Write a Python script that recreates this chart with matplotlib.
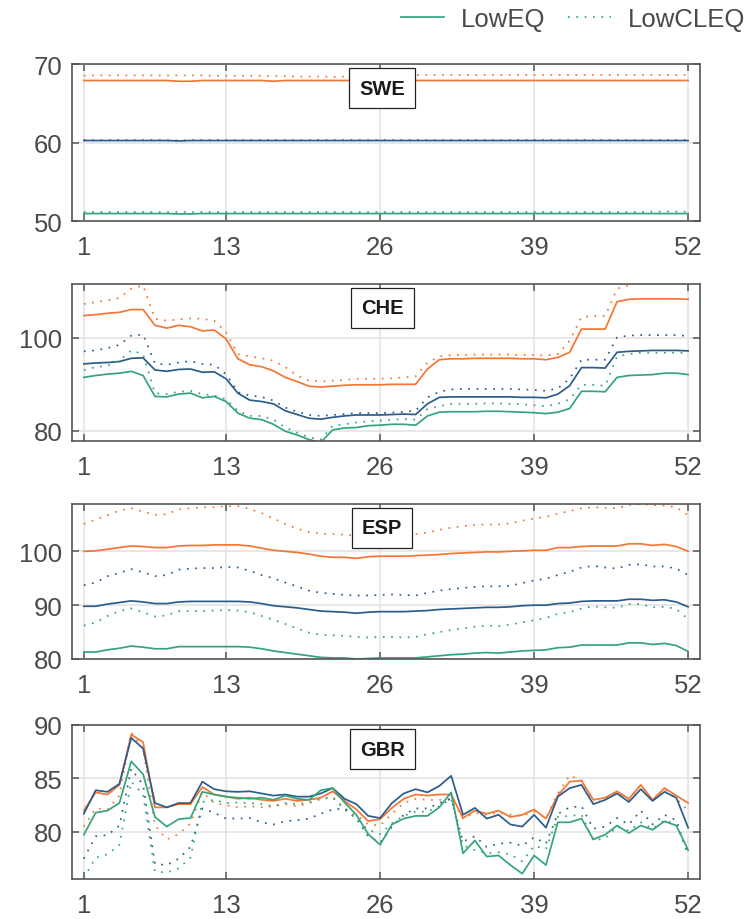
import numpy as np
import matplotlib
matplotlib.use("Agg")
import matplotlib.pyplot as plt

plt.rcParams['font.family'] = ['Liberation Sans', 'DejaVu Sans']

weeks = np.arange(1, 53)
xtick_vals = [1, 13, 26, 39, 52]
countries = ["SWE", "CHE", "ESP", "GBR"]
series_labels = ["LowEQ", "LowCLEQ"]

# ---- SWE ----
swe_orange_eq = [67.9, 67.9, 67.9, 67.9, 67.9, 67.9, 67.9, 67.9, 67.8, 67.8, 67.9, 67.9, 67.9,
                 67.9, 67.9, 67.9, 67.8, 67.9, 67.9, 67.9, 67.9, 67.9, 67.9, 67.9, 67.9, 67.9,
                 67.9, 67.9, 67.9, 67.9, 67.9, 67.9, 67.9, 67.9, 67.9, 67.9, 67.9, 67.9, 67.9,
                 67.9, 67.9, 67.9, 67.9, 67.9, 67.9, 67.9, 67.9, 67.9, 67.9, 67.9, 67.9, 67.9]
swe_orange_cleq = [68.5, 68.55, 68.55, 68.55, 68.55, 68.55, 68.55, 68.55, 68.55, 68.55, 68.55, 68.5, 68.5,
                   68.5, 68.5, 68.5, 68.45, 68.45, 68.4, 68.4, 68.4, 68.35, 68.4, 68.45, 68.55, 68.6,
                   68.6, 68.6, 68.6, 68.6, 68.6, 68.6, 68.6, 68.6, 68.6, 68.6, 68.6, 68.6, 68.6,
                   68.6, 68.6, 68.6, 68.6, 68.6, 68.6, 68.6, 68.6, 68.6, 68.6, 68.6, 68.6, 68.6]
swe_blue_eq = [60.25, 60.25, 60.25, 60.25, 60.25, 60.25, 60.25, 60.25, 60.2, 60.25, 60.25, 60.25, 60.25,
               60.25, 60.25, 60.25, 60.25, 60.25, 60.25, 60.25, 60.25, 60.25, 60.25, 60.25, 60.25, 60.25,
               60.25, 60.25, 60.25, 60.25, 60.25, 60.25, 60.25, 60.25, 60.25, 60.25, 60.25, 60.25, 60.25,
               60.25, 60.25, 60.25, 60.25, 60.25, 60.25, 60.25, 60.25, 60.25, 60.25, 60.25, 60.25, 60.25]
swe_blue_cleq = [60.3, 60.3, 60.3, 60.3, 60.3, 60.3, 60.3, 60.3, 60.25, 60.3, 60.3, 60.3, 60.3,
                 60.3, 60.3, 60.3, 60.3, 60.3, 60.3, 60.3, 60.3, 60.3, 60.3, 60.3, 60.3, 60.3,
                 60.3, 60.3, 60.3, 60.3, 60.3, 60.3, 60.3, 60.3, 60.3, 60.3, 60.3, 60.3, 60.3,
                 60.3, 60.3, 60.3, 60.3, 60.3, 60.3, 60.3, 60.3, 60.3, 60.3, 60.3, 60.3, 60.3]
swe_green_eq = [50.95, 50.95, 50.95, 50.95, 50.95, 50.95, 50.95, 50.95, 50.9, 50.9, 50.95, 50.95, 50.95,
                50.95, 50.95, 50.95, 50.95, 50.95, 50.95, 50.95, 50.95, 50.95, 50.95, 50.95, 50.95, 50.95,
                50.95, 50.95, 50.95, 50.95, 50.95, 50.95, 50.95, 50.95, 50.95, 50.95, 50.95, 50.95, 50.95,
                50.95, 50.95, 50.95, 50.95, 50.95, 50.95, 50.95, 50.95, 50.95, 50.95, 50.95, 50.95, 50.95]
swe_green_cleq = [51.15, 51.15, 51.15, 51.15, 51.15, 51.15, 51.15, 51.15, 51.15, 51.15, 51.15, 51.15, 51.15,
                  51.15, 51.15, 51.15, 51.15, 51.15, 51.15, 51.15, 51.15, 51.15, 51.15, 51.15, 51.15, 51.15,
                  51.15, 51.15, 51.15, 51.15, 51.15, 51.15, 51.15, 51.15, 51.15, 51.15, 51.15, 51.15, 51.15,
                  51.15, 51.15, 51.15, 51.15, 51.15, 51.15, 51.15, 51.15, 51.15, 51.2, 51.2, 51.2, 51.2]

# ---- CHE ----
che_orange_eq = [104.8, 105.0, 105.3, 105.5, 106.1, 106.1, 102.7, 102.1, 102.7, 102.4, 101.5, 101.7, 99.8,
                 95.5, 94.2, 93.8, 92.9, 91.5, 90.6, 89.6, 89.4, 89.6, 89.8, 89.9, 89.9, 89.9,
                 90.0, 90.0, 90.0, 93.3, 95.3, 95.5, 95.5, 95.6, 95.6, 95.6, 95.6, 95.5, 95.5,
                 95.3, 95.8, 96.9, 101.9, 101.9, 101.9, 107.8, 108.3, 108.4, 108.4, 108.4, 108.4, 108.3]
che_orange_cleq = [107.3, 107.7, 108.1, 108.6, 110.6, 111.3, 104.1, 103.7, 104.0, 104.2, 104.1, 103.7, 101.2,
                   96.5, 96.0, 95.6, 95.1, 93.7, 91.9, 90.8, 90.6, 90.8, 90.9, 91.2, 91.2, 91.2,
                   91.3, 91.5, 91.7, 94.7, 96.0, 96.3, 96.3, 96.4, 96.4, 96.4, 96.4, 96.3, 96.3,
                   96.2, 96.5, 99.4, 104.5, 104.7, 104.7, 110.6, 111.4, 111.7, 111.7, 111.7, 111.7, 111.7]
che_blue_eq = [94.4, 94.6, 94.7, 94.9, 95.6, 95.7, 93.1, 92.8, 93.2, 93.3, 92.6, 92.7, 91.2,
               88.1, 86.6, 86.3, 85.8, 84.3, 83.5, 82.7, 82.5, 82.9, 83.2, 83.4, 83.4, 83.4,
               83.5, 83.6, 83.5, 85.8, 87.2, 87.3, 87.3, 87.3, 87.3, 87.3, 87.3, 87.2, 87.2,
               87.1, 87.9, 89.7, 93.6, 93.6, 93.5, 96.9, 97.1, 97.2, 97.3, 97.3, 97.3, 97.2]
che_blue_cleq = [97.1, 97.3, 97.8, 98.5, 100.5, 100.7, 94.5, 94.2, 94.7, 95.0, 94.4, 94.2, 92.2,
                 88.3, 87.6, 87.3, 86.5, 85.0, 84.1, 83.4, 83.2, 83.4, 83.6, 83.8, 83.8, 83.8,
                 83.9, 84.1, 84.3, 87.2, 88.4, 88.9, 89.0, 89.0, 89.0, 89.0, 89.0, 88.9, 88.8,
                 88.6, 89.1, 91.2, 95.3, 95.3, 95.3, 100.1, 100.5, 100.6, 100.6, 100.6, 100.6, 100.4]
che_green_eq = [91.5, 91.9, 92.2, 92.4, 92.8, 91.9, 87.4, 87.3, 87.9, 88.1, 87.1, 87.4, 86.3,
                83.8, 82.7, 82.4, 81.4, 79.9, 79.1, 78.1, 77.5, 80.2, 80.6, 80.7, 81.1, 81.2,
                81.4, 81.4, 81.2, 83.2, 84.0, 84.1, 84.1, 84.1, 84.2, 84.2, 84.1, 84.0, 83.9,
                83.7, 84.0, 84.8, 88.5, 88.5, 88.4, 91.5, 91.9, 92.0, 92.1, 92.4, 92.4, 92.1]
che_green_cleq = [93.1, 93.7, 94.0, 95.1, 97.3, 96.5, 88.1, 87.9, 88.4, 88.6, 87.9, 87.6, 86.8,
                  84.3, 83.2, 83.2, 82.4, 80.7, 79.6, 78.6, 78.1, 81.1, 81.4, 81.8, 82.0, 82.2,
                  82.4, 82.5, 82.4, 84.7, 85.3, 85.8, 85.8, 85.8, 85.9, 85.9, 85.8, 85.7, 85.5,
                  85.3, 85.8, 86.8, 89.9, 89.9, 89.7, 96.0, 96.5, 96.8, 96.8, 96.8, 96.8, 96.7]

# ---- ESP ----
esp_orange_eq = [100.0, 100.1, 100.4, 100.7, 101.0, 100.9, 100.7, 100.7, 101.0, 101.1, 101.1, 101.2, 101.2,
                 101.2, 101.0, 100.6, 100.2, 100.0, 99.8, 99.5, 99.1, 98.9, 98.9, 98.7, 99.0, 99.1,
                 99.1, 99.1, 99.2, 99.3, 99.4, 99.6, 99.7, 99.8, 99.9, 99.9, 100.0, 100.1, 100.2,
                 100.2, 100.7, 100.7, 100.9, 101.0, 101.0, 101.0, 101.4, 101.4, 101.1, 101.3, 100.9, 100.0]
esp_orange_cleq = [105.1, 105.9, 106.7, 107.6, 108.0, 107.4, 106.8, 106.9, 107.8, 108.0, 108.2, 108.2, 108.4,
                   108.4, 107.9, 107.1, 106.1, 105.1, 104.2, 103.6, 103.3, 103.2, 103.1, 102.9, 102.8, 102.7,
                   102.7, 102.8, 103.2, 103.5, 104.0, 104.4, 104.7, 104.9, 105.0, 105.0, 105.2, 105.7, 106.1,
                   106.4, 107.0, 107.5, 108.0, 108.2, 108.1, 108.0, 108.6, 108.8, 108.6, 108.5, 108.2, 106.7]
esp_blue_eq = [89.8, 89.8, 90.2, 90.5, 90.8, 90.6, 90.3, 90.3, 90.6, 90.7, 90.7, 90.7, 90.7,
               90.7, 90.6, 90.3, 89.9, 89.7, 89.5, 89.2, 88.9, 88.8, 88.7, 88.5, 88.7, 88.8,
               88.8, 88.8, 88.9, 89.0, 89.2, 89.3, 89.4, 89.5, 89.6, 89.6, 89.7, 89.9, 90.0,
               90.0, 90.3, 90.4, 90.7, 90.8, 90.8, 90.8, 91.1, 91.1, 90.9, 91.0, 90.6, 89.7]
esp_blue_cleq = [93.7, 94.2, 95.4, 96.0, 96.7, 96.1, 95.4, 95.6, 96.6, 96.8, 96.9, 96.9, 97.1,
                 97.0, 96.4, 95.6, 95.0, 94.2, 93.5, 92.7, 92.3, 92.1, 91.9, 91.8, 91.8, 91.9,
                 92.0, 91.9, 91.8, 92.3, 92.7, 93.0, 93.2, 93.4, 93.5, 93.5, 93.6, 94.1, 94.6,
                 94.9, 95.6, 96.2, 97.0, 97.3, 97.0, 96.8, 97.5, 97.6, 97.2, 97.2, 96.8, 95.6]
esp_green_eq = [81.3, 81.3, 81.7, 82.0, 82.4, 82.2, 81.9, 81.9, 82.3, 82.3, 82.3, 82.3, 82.3,
                82.3, 82.2, 81.9, 81.5, 81.2, 80.9, 80.6, 80.3, 80.2, 80.2, 80.0, 80.1, 80.2,
                80.2, 80.2, 80.2, 80.4, 80.6, 80.8, 80.9, 81.1, 81.2, 81.1, 81.3, 81.5, 81.6,
                81.7, 82.1, 82.2, 82.6, 82.6, 82.6, 82.6, 83.0, 83.0, 82.7, 82.9, 82.5, 81.4]
esp_green_cleq = [86.2, 86.8, 88.0, 88.9, 89.4, 88.7, 87.9, 88.1, 88.9, 88.9, 88.9, 89.0, 89.1,
                  89.0, 88.7, 88.0, 87.3, 86.5, 85.7, 84.9, 84.5, 84.4, 84.3, 84.1, 84.0, 84.1,
                  84.1, 84.0, 84.1, 84.6, 85.0, 85.4, 85.7, 86.0, 86.2, 86.1, 86.4, 86.8, 87.2,
                  87.6, 88.4, 88.7, 89.4, 89.8, 89.6, 89.5, 90.2, 90.2, 89.6, 89.7, 89.3, 87.4]

# ---- GBR ----
gbr_orange_eq = [82.0, 83.7, 83.5, 84.4, 89.1, 88.4, 82.3, 82.3, 82.6, 82.6, 84.2, 83.5, 83.3,
                 83.1, 83.2, 83.0, 82.9, 83.1, 82.9, 83.0, 83.2, 83.8, 82.9, 82.1, 81.0, 81.2,
                 82.25, 83.1, 83.5, 83.4, 83.5, 83.5, 81.3, 82.0, 81.7, 82.0, 81.4, 81.6, 82.1,
                 81.25, 83.4, 84.7, 84.8, 83.0, 83.2, 83.8, 83.1, 84.4, 83.0, 84.1, 83.4, 82.7]
gbr_orange_cleq = [80.5, 82.2, 82.1, 83.4, 89.3, 87.8, 80.6, 79.3, 79.8, 80.8, 83.75, 82.7, 82.5,
                   82.3, 82.4, 82.3, 82.4, 82.6, 82.4, 82.7, 83.1, 83.3, 82.2, 81.6, 80.7, 80.6,
                   81.7, 82.7, 83.1, 83.0, 83.0, 83.1, 81.25, 81.8, 81.6, 81.8, 81.6, 81.5, 81.9,
                   81.3, 83.6, 85.3, 84.8, 82.6, 83.1, 83.7, 83.0, 84.4, 82.9, 84.0, 83.1, 82.0]
gbr_blue_eq = [81.7, 83.9, 83.75, 84.5, 88.8, 87.8, 82.7, 82.3, 82.7, 82.7, 84.7, 84.0, 83.8,
               83.75, 83.8, 83.6, 83.4, 83.5, 83.3, 83.3, 83.6, 84.1, 83.1, 82.6, 81.5, 81.3,
               82.7, 83.6, 84.0, 83.7, 84.3, 85.25, 81.6, 82.25, 81.25, 81.6, 80.7, 80.5, 81.6,
               80.4, 83.3, 84.1, 84.4, 82.6, 83.0, 83.6, 82.8, 84.0, 82.9, 83.75, 83.2, 80.4]
gbr_blue_cleq = [77.5, 79.6, 79.7, 80.6, 85.9, 84.4, 77.0, 76.9, 77.5, 78.6, 82.2, 81.8, 81.25,
                 81.25, 81.3, 80.9, 80.7, 81.0, 81.1, 81.25, 81.7, 82.1, 82.2, 81.25, 79.6, 79.0,
                 80.5, 81.6, 82.2, 82.2, 82.7, 83.1, 79.1, 79.6, 78.6, 78.9, 79.0, 78.7, 79.5,
                 78.9, 81.7, 82.3, 82.4, 80.3, 80.5, 81.3, 80.7, 82.0, 80.7, 81.6, 81.1, 77.8]
gbr_green_eq = [79.75, 81.8, 82.0, 82.7, 86.6, 85.4, 81.4, 80.5, 81.2, 81.3, 83.75, 83.5, 83.3,
                83.2, 83.1, 83.2, 83.0, 83.4, 83.1, 83.0, 83.9, 84.1, 82.75, 81.6, 79.8, 78.8,
                80.7, 81.25, 81.5, 81.5, 82.3, 83.7, 78.0, 79.2, 77.7, 77.8, 76.9, 76.1, 77.8,
                76.9, 80.9, 80.9, 81.25, 79.3, 79.75, 80.6, 79.9, 80.6, 80.2, 81.0, 80.6, 78.3]
gbr_green_cleq = [75.7, 77.6, 77.9, 78.8, 84.7, 83.5, 76.3, 76.2, 76.6, 77.6, 82.8, 83.0, 82.7,
                  82.75, 82.7, 82.6, 82.4, 82.7, 82.6, 82.75, 83.1, 83.2, 82.1, 81.25, 80.2, 79.8,
                  80.8, 81.5, 81.9, 81.9, 82.4, 83.1, 78.75, 78.3, 78.0, 78.1, 77.9, 77.25, 78.7,
                  78.4, 81.4, 81.5, 81.6, 79.2, 79.4, 80.5, 80.1, 80.9, 80.3, 81.1, 80.7, 78.0]

panel_series = {
    "SWE": [swe_orange_eq, swe_orange_cleq, swe_blue_eq, swe_blue_cleq, swe_green_eq, swe_green_cleq],
    "CHE": [che_orange_eq, che_orange_cleq, che_blue_eq, che_blue_cleq, che_green_eq, che_green_cleq],
    "ESP": [esp_orange_eq, esp_orange_cleq, esp_blue_eq, esp_blue_cleq, esp_green_eq, esp_green_cleq],
    "GBR": [gbr_orange_eq, gbr_orange_cleq, gbr_blue_eq, gbr_blue_cleq, gbr_green_eq, gbr_green_cleq],
}
ylims = {"SWE": (50, 70), "CHE": (77.8, 111.6), "ESP": (80, 108.8), "GBR": (75.6, 90)}
yticks = {"SWE": [50, 60, 70], "CHE": [80, 100], "ESP": [80, 90, 100], "GBR": [80, 85, 90]}

# colours and styles
c_orange = '#F47632'
c_blue = '#2B5C8A'
c_green = '#33A57B'
line_colors = [c_orange, c_orange, c_blue, c_blue, c_green, c_green]
dotted = (0, (1, 3.8))
line_styles = ['-', dotted, '-', dotted, '-', dotted]
grey = '#4a4a4a'

# axes rectangles in pixels (top, bottom) -> figure fractions
W, H = 753, 920
px_left, px_right = 72, 700
panel_px = {"SWE": (65, 222), "CHE": (285, 442), "ESP": (505, 660), "GBR": (726, 880)}

fig = plt.figure(figsize=(W / 100, H / 100), dpi=100)

legend_handles = []
for name in countries:
    top, bot = panel_px[name]
    ax = fig.add_axes([px_left / W, 1 - bot / H, (px_right - px_left) / W, (bot - top) / H])
    for vals, col, ls in zip(panel_series[name], line_colors, line_styles):
        ln, = ax.plot(weeks, vals, color=col, linestyle=ls, linewidth=1.25)
        if name == "SWE" and col == c_green:
            legend_handles.append(ln)
    ax.set_xlim(0, 53)
    ax.set_ylim(*ylims[name])
    ax.set_xticks(xtick_vals)
    ax.set_yticks(yticks[name])
    ax.tick_params(direction='in', length=5, width=1.1, top=True, right=True,
                   labelsize=18.5, labelcolor=grey, color='#555555')
    ax.tick_params(axis='x', pad=10)
    ax.tick_params(axis='y', pad=7)
    ax.grid(True, color='#e2e2e2', linewidth=1.1)
    ax.set_axisbelow(True)
    for s in ax.spines.values():
        s.set_color('#555555')
        s.set_linewidth(1.2)
    ax.text(0.494, 1 - 24 / (bot - top), name, transform=ax.transAxes,
            ha='center', va='center', fontsize=14.5, fontweight='bold', color='#1a1a1a',
            bbox=dict(boxstyle='square,pad=0.5', facecolor='white', edgecolor='#222222', linewidth=0.9),
            zorder=5)

fig.legend(legend_handles, series_labels, loc='upper right', bbox_to_anchor=(1.0, 1.0),
           ncol=2, frameon=False, fontsize=18.5, handlelength=1.7, handletextpad=0.65,
           columnspacing=0.85, borderaxespad=0.1, borderpad=0.2, labelcolor=grey)

fig.savefig("out.png", dpi=100)
